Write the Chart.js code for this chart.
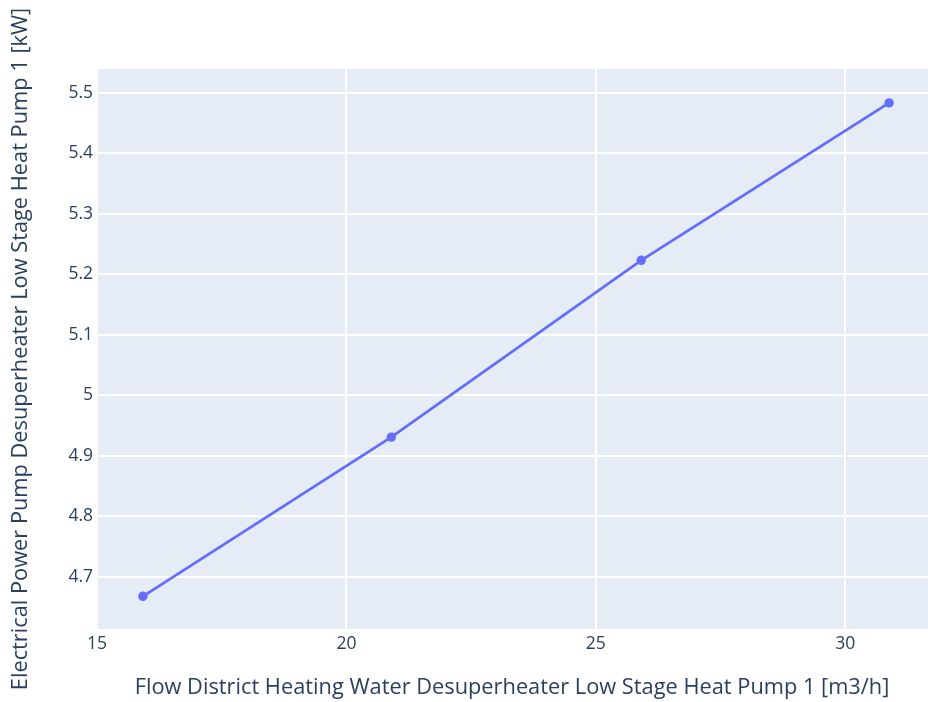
<!DOCTYPE html>
<html>
<head>
<meta charset="utf-8">
<script src="https://cdn.jsdelivr.net/npm/chart.js@4"></script>
<style>
  html, body { margin: 0; padding: 0; background: #fff; }
  #wrap { position: relative; width: 928px; height: 702px; }
</style>
</head>
<body>
<div id="wrap"><canvas id="c" width="928" height="702"></canvas></div>
<script>
const flowValues = [15.92, 20.90, 25.91, 30.88];
const powerValues = [4.668, 4.931, 5.223, 5.483];
const xTickValues = [15, 20, 25, 30];
const yTickValues = [4.7, 4.8, 4.9, 5.0, 5.1, 5.2, 5.3, 5.4, 5.5];
const yTickLabels = ['4.7', '4.8', '4.9', '5', '5.1', '5.2', '5.3', '5.4', '5.5'];
const xTitle = 'Flow District Heating Water Desuperheater Low Stage Heat Pump 1 [m3/h]';
const yTitle = 'Electrical Power Pump Desuperheater Low Stage Heat Pump 1 [kW]';

const textColor = '#2a3f5f';
const fontFamily = '"Open Sans", "Noto Sans", sans-serif';

const bgPlugin = {
  id: 'plotBg',
  beforeDraw(chart) {
    const { ctx, chartArea } = chart;
    ctx.save();
    ctx.fillStyle = '#e5ecf6';
    ctx.fillRect(chartArea.left, chartArea.top, chartArea.right - chartArea.left, chartArea.bottom - chartArea.top);
    ctx.restore();
  }
};

new Chart(document.getElementById('c'), {
  type: 'scatter',
  data: {
    datasets: [{
      data: flowValues.map((x, i) => ({ x, y: powerValues[i] })),
      showLine: true,
      borderColor: '#636efa',
      backgroundColor: '#636efa',
      borderWidth: 2.8,
      pointRadius: 4.7,
      pointHoverRadius: 4.7,
      pointBorderWidth: 0
    }]
  },
  plugins: [bgPlugin],
  options: {
    responsive: false,
    animation: false,
    devicePixelRatio: 1,
    layout: { autoPadding: false, padding: { left: 0, top: 69, right: 0, bottom: 0 } },
    plugins: { legend: { display: false }, tooltip: { enabled: false } },
    scales: {
      x: {
        type: 'linear',
        min: 14.98,
        max: 31.66,
        afterBuildTicks(scale) { scale.ticks = xTickValues.map(v => ({ value: v })); },
        afterFit(scale) { scale.height = 73; scale.paddingLeft = 0; scale.paddingRight = 0; },
        border: { display: false },
        grid: { color: '#ffffff', lineWidth: 2, drawTicks: false },
        ticks: {
          padding: 5,
          color: textColor,
          font: { family: fontFamily, size: 17.5 },
          callback: (v) => String(v),
          maxRotation: 0
        },
        title: {
          display: true,
          text: xTitle,
          color: textColor,
          font: { family: fontFamily, size: 21.8 },
          padding: { top: 14, bottom: 1 }
        }
      },
      y: {
        type: 'linear',
        min: 4.614,
        max: 5.539,
        afterBuildTicks(scale) { scale.ticks = yTickValues.map(v => ({ value: v })); },
        afterFit(scale) { scale.width = 96; scale.paddingTop = 0; scale.paddingBottom = 0; },
        border: { display: false },
        grid: { color: '#ffffff', lineWidth: 2, drawTicks: false },
        ticks: {
          padding: 3,
          color: textColor,
          font: { family: fontFamily, size: 17.5 },
          callback: (v) => {
            const i = yTickValues.findIndex(t => Math.abs(t - v) < 1e-6);
            return i >= 0 ? yTickLabels[i] : '';
          }
        },
        title: {
          display: true,
          text: yTitle,
          color: textColor,
          font: { family: fontFamily, size: 21.8 },
          padding: { top: 8, bottom: 0 }
        }
      }
    }
  }
});
</script>
</body>
</html>
